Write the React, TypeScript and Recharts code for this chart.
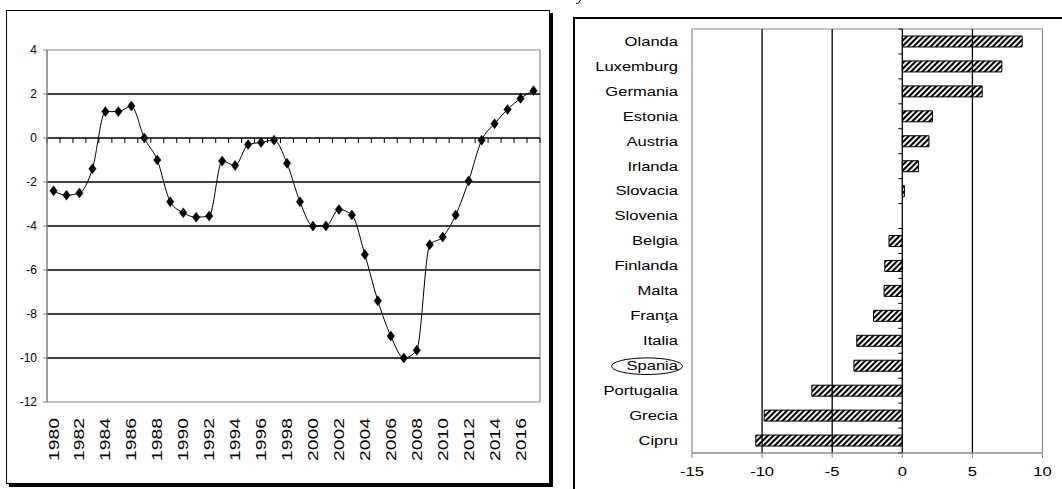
import React from "react";
import {
  ComposedChart,
  Line,
  XAxis,
  YAxis,
  ReferenceLine,
  ReferenceArea,
  BarChart,
  Bar,
} from "recharts";

const FONT = "'Liberation Sans', Arial, sans-serif";
const GREY = "#8a8a8a";

// ---- Left chart data ----
const years = [
  "1980", "1981", "1982", "1983", "1984", "1985", "1986", "1987", "1988", "1989",
  "1990", "1991", "1992", "1993", "1994", "1995", "1996", "1997", "1998", "1999",
  "2000", "2001", "2002", "2003", "2004", "2005", "2006", "2007", "2008", "2009",
  "2010", "2011", "2012", "2013", "2014", "2015", "2016", "2017",
];
const balance = [
  -2.4, -2.6, -2.5, -1.4, 1.2, 1.2, 1.45, 0.0, -1.0, -2.9,
  -3.4, -3.6, -3.55, -1.05, -1.25, -0.3, -0.2, -0.1, -1.15, -2.9,
  -4.0, -4.0, -3.25, -3.5, -5.3, -7.4, -9.0, -10.0, -9.65, -4.85,
  -4.5, -3.5, -1.95, -0.1, 0.65, 1.3, 1.8, 2.15,
];
const leftTicks = [4, 2, 0, -2, -4, -6, -8, -10, -12];
const leftGrid = [2, -2, -4, -6, -8, -10];

// ---- Right chart data ----
const countries = [
  "Olanda", "Luxemburg", "Germania", "Estonia", "Austria", "Irlanda", "Slovacia",
  "Slovenia", "Belgia", "Finlanda", "Malta", "Franţa", "Italia", "Spania",
  "Portugalia", "Grecia", "Cipru",
];
const countryValues = [
  8.55, 7.1, 5.7, 2.15, 1.9, 1.15, 0.15, 0, -0.95, -1.25, -1.3, -2.05, -3.25,
  -3.45, -6.45, -9.85, -10.45,
];
const rightTicks = [-15, -10, -5, 0, 5, 10];
const rightGrid = [-10, -5, 5];
const highlighted = "Spania";

const lineData = years.map((y, i) => ({ year: y, v: balance[i] }));
const barData = countries.map((c, i) => ({ name: c, v: countryValues[i] }));

const Diamond = (p: any) => {
  const { cx, cy, index } = p;
  if (cx == null || cy == null) return <g key={index} />;
  return (
    <polygon
      key={index}
      points={`${cx},${cy - 5} ${cx + 3.7},${cy} ${cx},${cy + 5} ${cx - 3.7},${cy}`}
      fill="#000"
      stroke="#000"
      strokeWidth={0.5}
    />
  );
};

const makeHZero = (n: number) => (props: any) => {
  const { x1, x2, y1 } = props;
  const step = (x2 - x1) / n;
  const ticks = [];
  for (let i = 0; i <= n; i++) {
    const x = x1 + i * step;
    ticks.push(<line key={i} x1={x} x2={x} y1={y1} y2={y1 + 5} stroke="#000" strokeWidth={1} />);
  }
  return (
    <g>
      <line x1={x1} x2={x2} y1={y1} y2={y1} stroke="#000" strokeWidth={1.6} />
      {ticks}
    </g>
  );
};

const makeVZero = (n: number) => (props: any) => {
  const { x1, y1, y2 } = props;
  const top = Math.min(y1, y2);
  const bot = Math.max(y1, y2);
  const step = (bot - top) / n;
  const ticks = [];
  for (let i = 0; i <= n; i++) {
    const y = top + i * step;
    ticks.push(<line key={i} x1={x1 - 4} x2={x1} y1={y} y2={y} stroke="#000" strokeWidth={1} />);
  }
  return (
    <g>
      <line x1={x1} x2={x1} y1={top} y2={bot} stroke="#000" strokeWidth={1.3} />
      {ticks}
    </g>
  );
};

const YearTick = (p: any) => {
  const { x, y, payload } = p;
  const yr = Number(payload.value);
  if (yr % 2 !== 0) return <g />;
  return (
    <text
      transform={`translate(${x},${y + 16}) rotate(-90) scale(1.38,1)`}
      textAnchor="end"
      dy="0.36em"
      fontSize={14}
      fontFamily={FONT}
      fill="#000"
    >
      {payload.value}
    </text>
  );
};

const CountryTick = (p: any) => {
  const { x, y, payload } = p;
  return (
    <g transform={`translate(${x},${y})`}>
      {payload.value === highlighted && (
        <ellipse cx={-31} cy={0.5} rx={35.5} ry={8.3} fill="none" stroke="#000" strokeWidth={1} />
      )}
      <text transform="scale(1.38,1)" textAnchor="end" dy="0.36em" fontSize={12} fontFamily={FONT} fill="#000">
        {payload.value}
      </text>
    </g>
  );
};

const ValueTick = (p: any) => {
  const { x, y, payload } = p;
  return (
    <g transform={`translate(${x},${y})`}>
      <text transform="scale(1.38,1)" textAnchor="middle" dy="0.71em" fontSize={12} fontFamily={FONT} fill="#000">
        {payload.value}
      </text>
    </g>
  );
};

export default function App() {
  return (
    <div
      style={{
        position: "absolute",
        left: 0,
        top: 0,
        width: 1062,
        height: 489,
        overflow: "hidden",
        background: "#fff",
        fontFamily: FONT,
      }}
    >
      {/* left frame */}
      <div
        style={{
          position: "absolute",
          left: 6,
          top: 10,
          width: 544,
          height: 474,
          boxSizing: "border-box",
          border: "1px solid #000",
          boxShadow: "3px 3px 0 #000",
        }}
      />
      {/* right frame */}
      <div
        style={{
          position: "absolute",
          left: 573,
          top: 17,
          width: 600,
          height: 600,
          boxSizing: "border-box",
          border: "2px solid #000",
        }}
      />
      {/* tiny clipped mark at the very top */}
      <svg style={{ position: "absolute", left: 0, top: 0 }} width={1062} height={10}>
        <path d="M580.5,0 L578.5,3 L576,3.5" fill="none" stroke="#000" strokeWidth={1} />
      </svg>

      <div style={{ position: "absolute", left: 0, top: 0 }}>
        <ComposedChart
          width={556}
          height={489}
          data={lineData}
          margin={{ top: 50, right: 16, bottom: 17, left: 7 }}
        >
          <XAxis
            dataKey="year"
            type="category"
            scale="band"
            interval={0}
            axisLine={false}
            tickLine={false}
            tickSize={0}
            tickMargin={0}
            height={70}
            tick={<YearTick />}
          />
          <YAxis
            type="number"
            domain={[-12, 4]}
            ticks={leftTicks}
            interval={0}
            width={40}
            axisLine={{ stroke: GREY, strokeWidth: 1.2 }}
            tickLine={{ stroke: GREY }}
            tickSize={4}
            tickMargin={6}
            tick={{ fill: "#000", fontSize: 12, fontFamily: FONT }}
          />
          <ReferenceArea y1={-12} y2={4} fill="none" stroke={GREY} strokeWidth={1.2} fillOpacity={0} ifOverflow="visible" />
          {leftGrid.map((g) => (
            <ReferenceLine key={g} y={g} stroke="#000" strokeWidth={1.6} />
          ))}
          <ReferenceLine y={0} stroke="#000" shape={makeHZero(years.length)} />
          <Line
            type="monotone"
            dataKey="v"
            stroke="#000"
            strokeWidth={1}
            dot={Diamond}
            activeDot={false}
            isAnimationActive={false}
          />
        </ComposedChart>
      </div>

      <div style={{ position: "absolute", left: 574, top: 0 }}>
        <BarChart
          width={488}
          height={489}
          data={barData}
          layout="vertical"
          barSize={11}
          margin={{ top: 29, right: 19.5, bottom: 6, left: 0 }}
        >
          <defs>
            <pattern id="hatch" patternUnits="userSpaceOnUse" width={4} height={4} patternTransform="rotate(45)">
              <rect width={4} height={4} fill="#fff" />
              <rect width={2.1} height={4} fill="#000" />
            </pattern>
          </defs>
          <XAxis
            type="number"
            domain={[-15, 10]}
            ticks={rightTicks}
            interval={0}
            height={30}
            axisLine={{ stroke: GREY, strokeWidth: 1.2 }}
            tickLine={{ stroke: GREY }}
            tickSize={5}
            tickMargin={9}
            tick={<ValueTick />}
          />
          <YAxis
            type="category"
            dataKey="name"
            interval={0}
            width={118}
            axisLine={false}
            tickLine={false}
            tickSize={0}
            tickMargin={14}
            tick={<CountryTick />}
          />
          <ReferenceArea x1={-15} x2={10} fill="none" fillOpacity={0} stroke={GREY} strokeWidth={1.2} ifOverflow="visible" />
          {rightGrid.map((g) => (
            <ReferenceLine key={g} x={g} stroke="#000" strokeWidth={1.3} />
          ))}
          <Bar dataKey="v" fill="url(#hatch)" stroke="#000" strokeWidth={1} isAnimationActive={false} />
          <ReferenceLine x={0} stroke="#000" shape={makeVZero(countries.length)} />
        </BarChart>
      </div>
    </div>
  );
}
